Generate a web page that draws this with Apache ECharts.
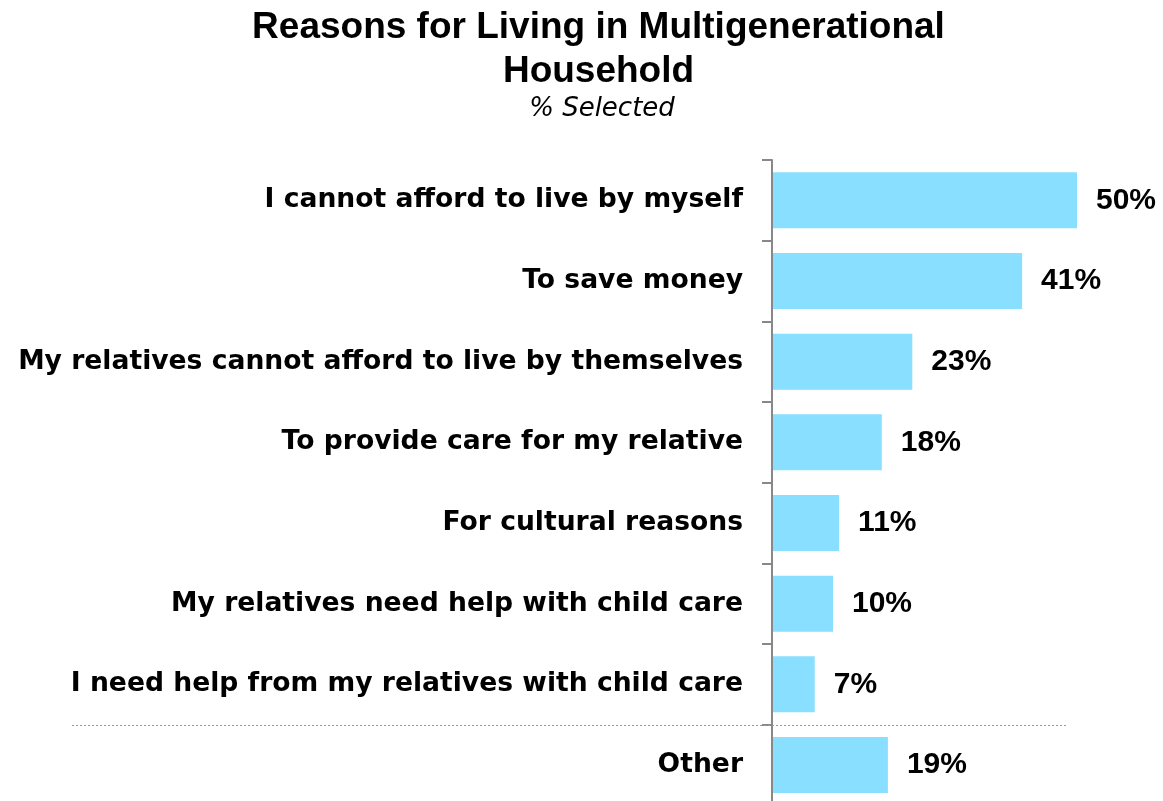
<!DOCTYPE html>
<html><head><meta charset="utf-8">
<script src="https://cdn.jsdelivr.net/npm/echarts@6/dist/echarts.min.js"></script>
<style>html,body{margin:0;padding:0;background:#fff}#c{width:1163px;height:801px}</style>
</head><body><div id="c"></div>
<script>
const categories = [
  "I cannot afford to live by myself",
  "To save money",
  "My relatives cannot afford to live by themselves",
  "To provide care for my relative",
  "For cultural reasons",
  "My relatives need help with child care",
  "I need help from my relatives with child care",
  "Other"
];
const values = [50, 41, 23, 18, 11, 10, 7, 19];
const titleText = 'Reasons for Living in Multigenerational\nHousehold';
const subtitleText = '% Selected';

const chart = echarts.init(document.getElementById('c'), null, {renderer: 'canvas'});
const titleFont = '"Liberation Sans", Arial, sans-serif';
const font = '"DejaVu Sans", "Liberation Sans", sans-serif';
chart.setOption({
  animation: false,
  grid: {left: 772, right: 25, top: 160, bottom: -4.3, containLabel: false, outerBoundsMode: 'none'},
  xAxis: {type: 'value', min: 0, max: 60, show: false},
  yAxis: {
    type: 'category', data: categories, inverse: true,
    axisLine: {show: true, lineStyle: {color: '#888', width: 2}},
    axisTick: {show: true, length: 10, lineStyle: {color: '#888', width: 2}},
    axisLabel: {fontFamily: font, fontSize: 26.6, fontWeight: 'bold', color: '#000', margin: 29},
    splitLine: {show: false},
    z: 3
  },
  series: [{
    type: 'bar', data: values, barWidth: 56, z: 2,
    itemStyle: {color: '#89DFFF'},
    label: {show: true, position: 'right', distance: 19, formatter: '{c}%',
      fontFamily: titleFont, fontSize: 30, fontWeight: 'bold', color: '#000'}
  }]
});
const y6 = chart.convertToPixel({yAxisIndex: 0}, categories[6]);
const y7 = chart.convertToPixel({yAxisIndex: 0}, categories[7]);
const ySep = Math.round((y6 + y7) / 2) + 0.5;
chart.setOption({
  graphic: [{
    type: 'text', x: 598.5, y: 6,
    style: {text: titleText, align: 'center', verticalAlign: 'top', fill: '#000',
      font: 'bold 37px ' + titleFont, lineHeight: 44}
  }, {
    type: 'text', x: 602, y: 94,
    style: {text: subtitleText, align: 'center', verticalAlign: 'top', fill: '#000',
      font: 'italic 26px ' + font, lineHeight: 30}
  }, {
    type: 'line', shape: {x1: 72, y1: ySep, x2: 1068, y2: ySep},
    style: {stroke: '#999', lineWidth: 1, lineDash: [2, 2]}, z: 10
  }]
});
</script></body></html>
